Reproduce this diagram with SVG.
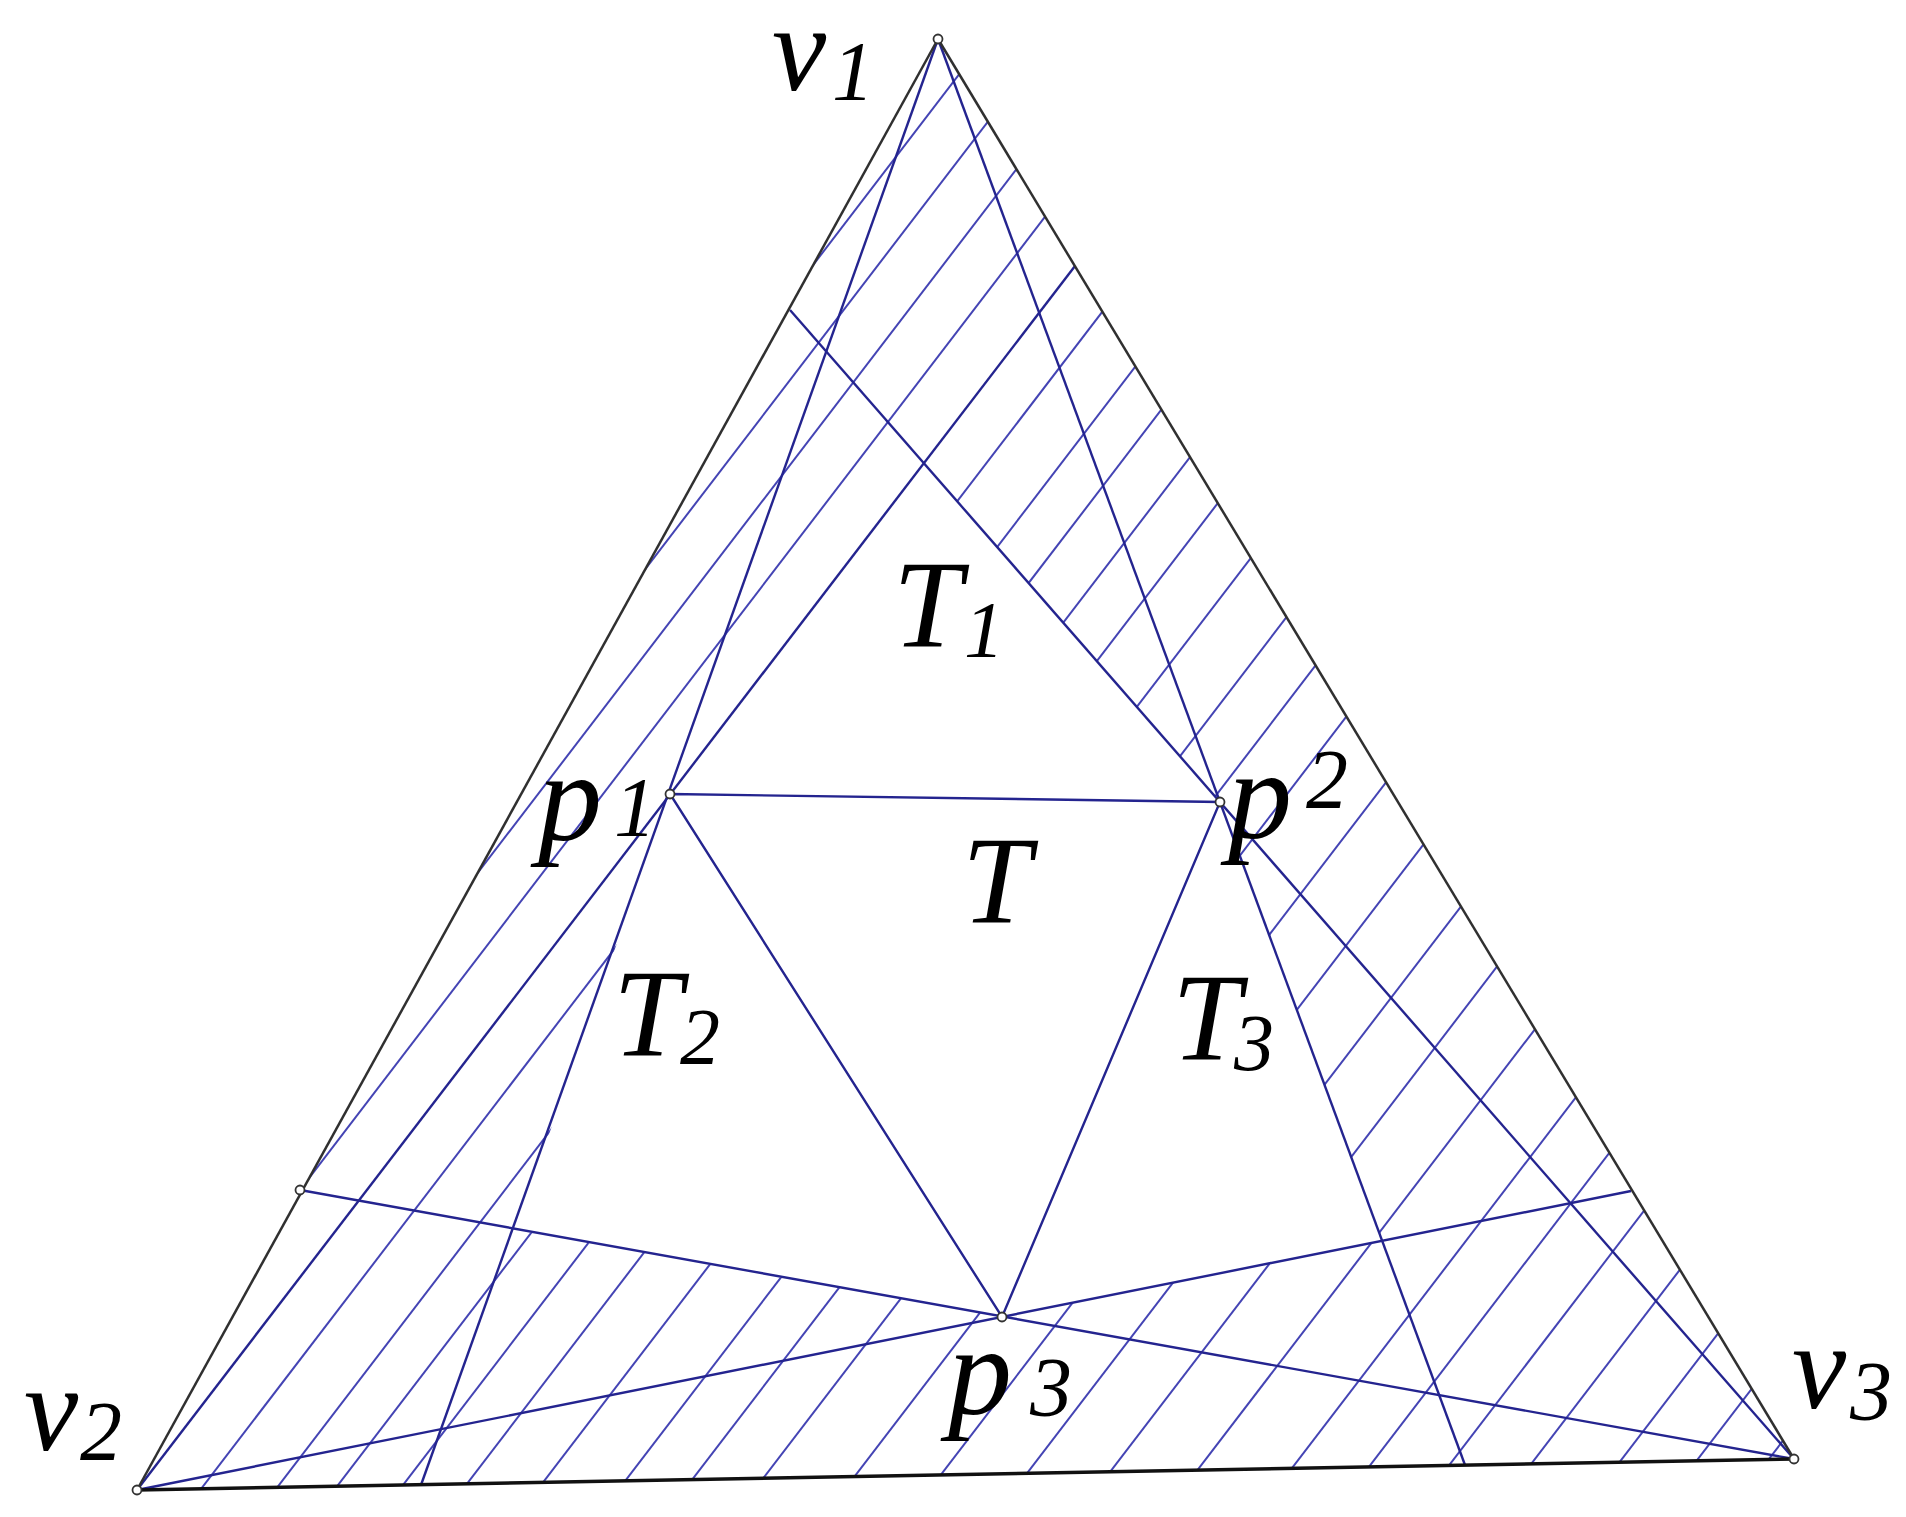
<svg xmlns="http://www.w3.org/2000/svg" width="1906" height="1517" viewBox="0 0 1906 1517">
<style>
.edge{stroke:#303030;stroke-width:2.5;fill:none}
.base{stroke:#111;stroke-width:3.5;fill:none}
.major{stroke:#24248f;stroke-width:2.4;fill:none}
.hatch{stroke:#4444b4;stroke-width:2;fill:none}
.pt{fill:#fff;stroke:#333;stroke-width:1.8}
.lbl{font-family:"Liberation Serif","Times New Roman",serif;font-style:italic;fill:#000}
</style>
<defs>
<clipPath id="hz">
<path clip-rule="evenodd" d="M938,39 L137,1490 L1794,1459 Z M670,794 L924,463 L1220,802 L1382,1241 L1002,1317 L515,1230 Z"/>
</clipPath>
</defs>
<rect width="1906" height="1517" fill="#fff"/>
<g id="hatching" clip-path="url(#hz)">
<line class="hatch" x1="-209" y1="1600" x2="1016" y2="0"/>
<line class="hatch" x1="-144" y1="1600" x2="1081" y2="0"/>
<line class="hatch" x1="-79" y1="1600" x2="1146" y2="0"/>
<line class="hatch" x1="-14" y1="1600" x2="1211" y2="0"/>
<line class="hatch" x1="116" y1="1600" x2="1341" y2="0"/>
<line class="hatch" x1="191" y1="1600" x2="1416" y2="0"/>
<line class="hatch" x1="250" y1="1600" x2="1475" y2="0"/>
<line class="hatch" x1="315" y1="1600" x2="1540" y2="0"/>
<line class="hatch" x1="378" y1="1600" x2="1603" y2="0"/>
<line class="hatch" x1="453" y1="1600" x2="1678" y2="0"/>
<line class="hatch" x1="534" y1="1600" x2="1759" y2="0"/>
<line class="hatch" x1="600" y1="1600" x2="1825" y2="0"/>
<line class="hatch" x1="670" y1="1600" x2="1895" y2="0"/>
<line class="hatch" x1="760" y1="1600" x2="1985" y2="0"/>
<line class="hatch" x1="845" y1="1600" x2="2070" y2="0"/>
<line class="hatch" x1="930" y1="1600" x2="2155" y2="0"/>
<line class="hatch" x1="1012" y1="1600" x2="2237" y2="0"/>
<line class="hatch" x1="1098" y1="1600" x2="2323" y2="0"/>
<line class="hatch" x1="1191" y1="1600" x2="2416" y2="0"/>
<line class="hatch" x1="1267" y1="1600" x2="2492" y2="0"/>
<line class="hatch" x1="1346" y1="1600" x2="2571" y2="0"/>
<line class="hatch" x1="1427" y1="1600" x2="2652" y2="0"/>
<line class="hatch" x1="1514" y1="1600" x2="2739" y2="0"/>
<line class="hatch" x1="1590" y1="1600" x2="2815" y2="0"/>
<line class="hatch" x1="1661" y1="1600" x2="2886" y2="0"/>
</g>
<g id="connectors">
<line class="major" x1="938" y1="39" x2="421" y2="1485"/>
<line class="major" x1="938" y1="39" x2="1465" y2="1465"/>
<line class="major" x1="137" y1="1490" x2="1075" y2="266"/>
<line class="major" x1="137" y1="1490" x2="1631" y2="1191"/>
<line class="major" x1="1794" y1="1459" x2="300" y2="1190"/>
<line class="major" x1="1794" y1="1459" x2="790" y2="310"/>
<path class="major" d="M670,794 L1220,802 L1002,1317 Z"/>
<line class="edge" x1="938" y1="39" x2="137" y2="1490"/>
<line class="edge" x1="938" y1="39" x2="1794" y2="1459"/>
<line class="base" x1="137" y1="1490" x2="1794" y2="1459"/>
</g>
<g id="v1"><circle class="pt" cx="938" cy="39" r="4.5"/><text class="lbl" x="772" y="90" font-size="122">v</text><text class="lbl" x="832" y="100" font-size="84">1</text></g>
<g id="v2"><circle class="pt" cx="137" cy="1490" r="4.5"/><text class="lbl" x="24" y="1450" font-size="122">v</text><text class="lbl" x="80" y="1460" font-size="84">2</text></g>
<g id="v3"><circle class="pt" cx="1794" cy="1459" r="4.5"/><text class="lbl" x="1792" y="1408" font-size="122">v</text><text class="lbl" x="1850" y="1420" font-size="84">3</text></g>
<g id="p1"><circle class="pt" cx="670" cy="794" r="4.5"/><text class="lbl" x="538" y="840" font-size="128">p</text><text class="lbl" x="614" y="836" font-size="84">1</text></g>
<g id="p2"><circle class="pt" cx="1220" cy="802" r="4.5"/><text class="lbl" x="1228" y="838" font-size="128">p</text><text class="lbl" x="1306" y="808" font-size="84">2</text></g>
<g id="p3"><circle class="pt" cx="1002" cy="1317" r="4.5"/><text class="lbl" x="948" y="1414" font-size="128">p</text><text class="lbl" x="1030" y="1416" font-size="84">3</text></g>
<g id="q"><circle class="pt" cx="300" cy="1190" r="4.5"/></g>
<g id="T"><text class="lbl" x="962" y="923" font-size="124">T</text></g>
<g id="T1"><text class="lbl" x="893" y="647" font-size="124">T</text><text class="lbl" x="964" y="657" font-size="80">1</text></g>
<g id="T2"><text class="lbl" x="613" y="1056" font-size="124">T</text><text class="lbl" x="680" y="1064" font-size="80">2</text></g>
<g id="T3"><text class="lbl" x="1172" y="1060" font-size="124">T</text><text class="lbl" x="1234" y="1070" font-size="80">3</text></g>
</svg>
